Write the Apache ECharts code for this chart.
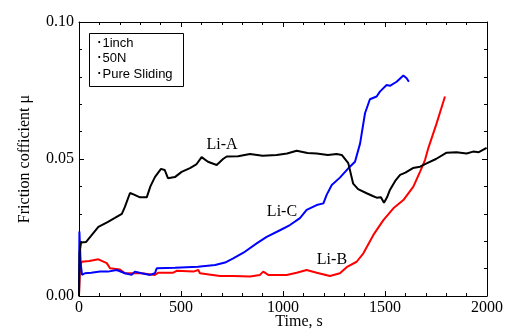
<!DOCTYPE html>
<html>
<head>
<meta charset="utf-8">
<script src="https://cdn.jsdelivr.net/npm/echarts@6/dist/echarts.min.js"></script>
<style>
  html, body { margin: 0; padding: 0; background: #fff; }
  #chart { width: 511px; height: 331px; }
</style>
</head>
<body>
<div id="chart"></div>
<script>
// time (s) / friction coefficient
const liATime = [0, 3, 10, 34, 60, 95, 140, 176, 210, 225, 250, 270, 299, 332, 350, 372, 402, 420, 436, 470, 503, 544, 575, 601, 632, 675, 706, 724, 780, 838, 900, 969, 1020, 1067, 1120, 1165, 1220, 1263, 1288, 1320, 1344, 1368, 1410, 1440, 1459, 1480, 1495, 1510, 1524, 1550, 1574, 1600, 1637, 1672, 1704, 1750, 1802, 1850, 1900, 1932, 1960, 1998]
const liAValue = [0.000, 0.016, 0.0195, 0.0197, 0.022, 0.0252, 0.027, 0.0285, 0.030, 0.0325, 0.0376, 0.037, 0.036, 0.036, 0.040, 0.0434, 0.0464, 0.046, 0.043, 0.0434, 0.0453, 0.0467, 0.048, 0.0507, 0.049, 0.0478, 0.050, 0.0509, 0.051, 0.0518, 0.0512, 0.0515, 0.052, 0.053, 0.0522, 0.052, 0.0515, 0.0518, 0.0515, 0.0485, 0.041, 0.039, 0.0375, 0.0365, 0.0359, 0.036, 0.034, 0.036, 0.0387, 0.042, 0.0442, 0.045, 0.0467, 0.0472, 0.0484, 0.050, 0.0523, 0.0525, 0.052, 0.0527, 0.0525, 0.0541]

const liBTime = [0, 5, 13, 50, 95, 103, 136, 152, 201, 225, 307, 372, 389, 462, 479, 487, 560, 585, 593, 691, 756, 838, 887, 903, 928, 1018, 1067, 1116, 1165, 1230, 1279, 1312, 1361, 1394, 1443, 1492, 1541, 1590, 1639, 1672, 1696, 1712, 1753, 1794]
const liBValue = [0, 0.0105, 0.0125, 0.0128, 0.0134, 0.0134, 0.012, 0.0101, 0.0097, 0.0083, 0.0083, 0.0077, 0.0085, 0.0085, 0.0092, 0.0085, 0.0089, 0.0095, 0.0083, 0.0073, 0.0073, 0.0071, 0.0077, 0.0089, 0.0077, 0.0077, 0.0085, 0.0095, 0.0085, 0.0073, 0.0083, 0.0105, 0.0125, 0.0156, 0.0223, 0.0277, 0.032, 0.035, 0.0399, 0.0454, 0.0496, 0.0539, 0.063, 0.0728]

const liCTime = [0, 2, 8, 15, 29, 60, 103, 142, 185, 225, 258, 274, 307, 348, 372, 381, 471, 583, 667, 716, 756, 806, 871, 920, 985, 1034, 1083, 1116, 1165, 1198, 1214, 1239, 1279, 1320, 1353, 1378, 1402, 1426, 1459, 1475, 1508, 1524, 1557, 1590, 1606, 1617]
const liCValue = [0, 0.0235, 0.012, 0.0077, 0.0083, 0.0085, 0.0089, 0.0089, 0.0095, 0.0083, 0.0077, 0.0089, 0.0083, 0.0077, 0.0083, 0.0101, 0.0103, 0.0107, 0.0113, 0.0122, 0.0137, 0.0158, 0.0192, 0.0216, 0.024, 0.0259, 0.0284, 0.0314, 0.0332, 0.0338, 0.0369, 0.0405, 0.0432, 0.0466, 0.049, 0.0557, 0.0667, 0.0718, 0.0728, 0.0746, 0.077, 0.0767, 0.0782, 0.0805, 0.0795, 0.0782]

// label positions in data units
const curveLabels = [
  { name: 'Li-A', coord: [701, 0.0551] },
  { name: 'Li-C', coord: [995, 0.0307] },
  { name: 'Li-B', coord: [1240, 0.0131] }
]
const conditions = ['･1inch', '･50N', '･Pure Sliding']

const serif = '"Liberation Serif", "DejaVu Serif", serif'
const sans = '"Liberation Sans", Arial, sans-serif'

function zip(xs, ys) {
  return xs.map((x, i) => [x, ys[i]])
}

let chartDom = document.getElementById('chart')
let myChart = echarts.init(chartDom, null, { renderer: 'canvas' })

const tickStyle = {
  axisLine: { show: true, onZero: false, lineStyle: { color: '#000', width: 1 } },
  axisTick: { show: true, inside: true, length: 5, lineStyle: { color: '#000' } },
  minorTick: { show: true, splitNumber: 5, length: 3, lineStyle: { color: '#000' } },
  splitLine: { show: false }
}

function lineSeries(name, data, color) {
  return {
    name: name,
    type: 'line',
    data: data,
    showSymbol: false,
    symbol: 'none',
    smooth: false,
    lineStyle: { color: color, width: 2 },
    itemStyle: { color: color },
    animation: false
  }
}

let option = {
  backgroundColor: '#fff',
  animation: false,
  grid: { left: 79, right: 24, top: 22, bottom: 35, containLabel: false, outerBoundsMode: 'none' },
  xAxis: [
    {
      type: 'value', min: 0, max: 2000, interval: 500, position: 'bottom',
      name: 'Time, s', nameLocation: 'middle', nameGap: 18, nameMoveOverlap: false,
      nameTextStyle: { fontFamily: serif, fontSize: 16, color: '#000', padding: [0, 0, 0, 32] },
      axisLabel: { fontFamily: serif, fontSize: 16, color: '#000', margin: 4, formatter: v => String(v) },
      ...tickStyle
    },
    {
      type: 'value', min: 0, max: 2000, interval: 500, position: 'top',
      axisLabel: { show: false },
      ...tickStyle
    }
  ],
  yAxis: [
    {
      type: 'value', min: 0, max: 0.1, interval: 0.05, position: 'left',
      name: 'Friction cofficient μ', nameLocation: 'middle', nameGap: 46, nameMoveOverlap: false,
      nameTextStyle: { fontFamily: serif, fontSize: 16, color: '#000' },
      axisLabel: { fontFamily: serif, fontSize: 16, color: '#000', margin: 5,
        formatter: v => v.toFixed(2) },
      ...tickStyle
    },
    {
      type: 'value', min: 0, max: 0.1, interval: 0.05, position: 'right',
      axisLabel: { show: false },
      ...tickStyle
    }
  ],
  series: [
    lineSeries('Li-B', zip(liBTime, liBValue), '#ff0000'),
    lineSeries('Li-C', zip(liCTime, liCValue), '#0000ff'),
    Object.assign(lineSeries('Li-A', zip(liATime, liAValue), '#000000'), {
      markPoint: {
        symbol: 'circle', symbolSize: 0, silent: true,
        label: { show: true, position: 'inside', formatter: '{b}', fontFamily: serif, fontSize: 16, color: '#000' },
        data: curveLabels
      }
    })
  ],
  graphic: [
    {
      type: 'group', left: 89, top: 33,
      children: [
        { type: 'rect', shape: { x: 0, y: 0, width: 94, height: 53 }, style: { fill: '#fff', stroke: '#000', lineWidth: 1 } },
        { type: 'text', x: 6, y: 10, style: { text: conditions[0], font: '13px ' + sans, fill: '#000', verticalAlign: 'middle' } },
        { type: 'text', x: 6, y: 25, style: { text: conditions[1], font: '13px ' + sans, fill: '#000', verticalAlign: 'middle' } },
        { type: 'text', x: 6, y: 41, style: { text: conditions[2], font: '13px ' + sans, fill: '#000', verticalAlign: 'middle' } }
      ]
    }
  ]
}

myChart.setOption(option, true)
</script>
</body>
</html>
